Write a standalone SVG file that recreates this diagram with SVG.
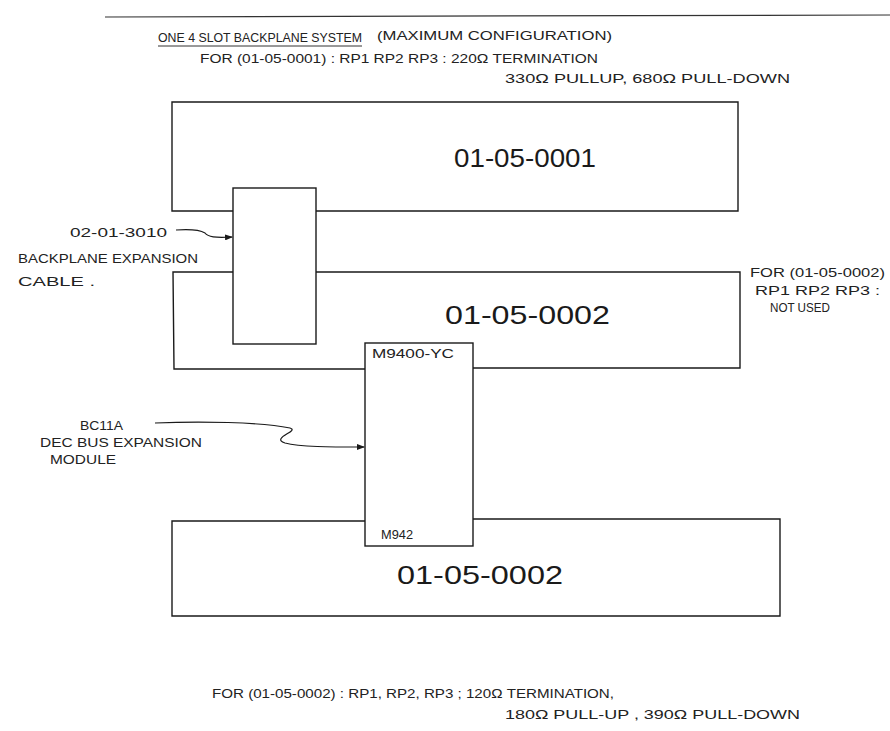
<svg xmlns="http://www.w3.org/2000/svg" width="890" height="731" viewBox="0 0 890 731">
<defs>
<style>
text{font-family:"Liberation Sans","DejaVu Sans",sans-serif;fill:#222}
.s{font-size:13px}
.t{font-size:13.5px}
.b{font-size:25px;fill:#1a1a1a}
.ol{fill:none;stroke:#1a1a1a;stroke-width:1.4}
.c{fill:none;stroke:#1a1a1a;stroke-width:1.2}
</style>
<marker id="ah" markerWidth="8" markerHeight="6" refX="7" refY="3" orient="auto" markerUnits="userSpaceOnUse">
<path d="M0,0 L8,3 L0,6 Z" fill="#1a1a1a"/>
</marker>
</defs>
<rect width="890" height="731" fill="#fff"/>
<g id="title">
<line x1="105" y1="17" x2="890" y2="15" stroke="#333" stroke-width="1.2"/>
<text class="t" x="158" y="42" textLength="204" lengthAdjust="spacingAndGlyphs">ONE 4 SLOT BACKPLANE SYSTEM</text>
<line x1="158" y1="46" x2="362" y2="46" stroke="#333" stroke-width="1"/>
<text class="s" x="377" y="40" textLength="235" lengthAdjust="spacingAndGlyphs">(MAXIMUM CONFIGURATION)</text>
<text class="s" x="200" y="63" textLength="398" lengthAdjust="spacingAndGlyphs">FOR (01-05-0001) : RP1 RP2 RP3 : 220Ω TERMINATION</text>
<text class="s" x="505" y="83" textLength="285" lengthAdjust="spacingAndGlyphs">330Ω PULLUP, 680Ω PULL-DOWN</text>
</g>
<g id="backplane1">
<path class="ol" d="M233,211 L172,211 L172,102 L738,102 L738,211 L316,211"/>
<text class="b" x="454" y="167" textLength="142" lengthAdjust="spacingAndGlyphs">01-05-0001</text>
</g>
<g id="backplane2">
<path class="ol" d="M233,272 L173,272 L174,369 L365,369 M473,368 L740,368 L740,272 L316,272"/>
<text class="b" x="445" y="324" textLength="165" lengthAdjust="spacingAndGlyphs">01-05-0002</text>
</g>
<g id="backplane3">
<path class="ol" d="M365,521 L172,521 L172,616 L780,616 L780,519 L473,519"/>
<text class="b" x="397" y="584" textLength="166" lengthAdjust="spacingAndGlyphs">01-05-0002</text>
</g>
<g id="cable">
<rect class="ol" x="233" y="188" width="83" height="156"/>
</g>
<g id="module">
<rect class="ol" x="365" y="343" width="108" height="203"/>
<text class="s" x="372" y="358" textLength="82" lengthAdjust="spacingAndGlyphs">M9400-YC</text>
<text class="s" x="381" y="539" textLength="32" lengthAdjust="spacingAndGlyphs">M942</text>
</g>
<g id="label-cable">
<text class="s" x="70" y="237" textLength="97" lengthAdjust="spacingAndGlyphs">02-01-3010</text>
<text class="s" x="18" y="263" textLength="180" lengthAdjust="spacingAndGlyphs">BACKPLANE EXPANSION</text>
<text class="s" x="18" y="286" textLength="77" lengthAdjust="spacingAndGlyphs">CABLE .</text>
</g>
<g id="label-module">
<text class="s" x="80" y="430" textLength="43" lengthAdjust="spacingAndGlyphs">BC11A</text>
<text class="s" x="40" y="447" textLength="162" lengthAdjust="spacingAndGlyphs">DEC BUS EXPANSION</text>
<text class="s" x="50" y="464" textLength="66" lengthAdjust="spacingAndGlyphs">MODULE</text>
</g>
<g id="label-right">
<text class="s" x="750" y="277" textLength="135" lengthAdjust="spacingAndGlyphs">FOR (01-05-0002)</text>
<text class="s" x="755" y="295" textLength="125" lengthAdjust="spacingAndGlyphs">RP1 RP2 RP3 :</text>
<text class="s" x="770" y="312" textLength="60" lengthAdjust="spacingAndGlyphs">NOT USED</text>
</g>
<g id="footer">
<text class="s" x="212" y="698" textLength="402" lengthAdjust="spacingAndGlyphs">FOR (01-05-0002) : RP1, RP2, RP3 ; 120Ω TERMINATION,</text>
<text class="s" x="505" y="719" textLength="295" lengthAdjust="spacingAndGlyphs">180Ω PULL-UP , 390Ω PULL-DOWN</text>
</g>
<g id="connectors">
<path class="c" d="M176,230 C190,229 200,230 205,233 C208,237 215,238 232,237" marker-end="url(#ah)"/>
<path class="c" d="M155,423 C200,421 260,422 290,428 C300,431 270,438 285,443 C300,447 330,447 364,447" marker-end="url(#ah)"/>
</g>
</svg>
